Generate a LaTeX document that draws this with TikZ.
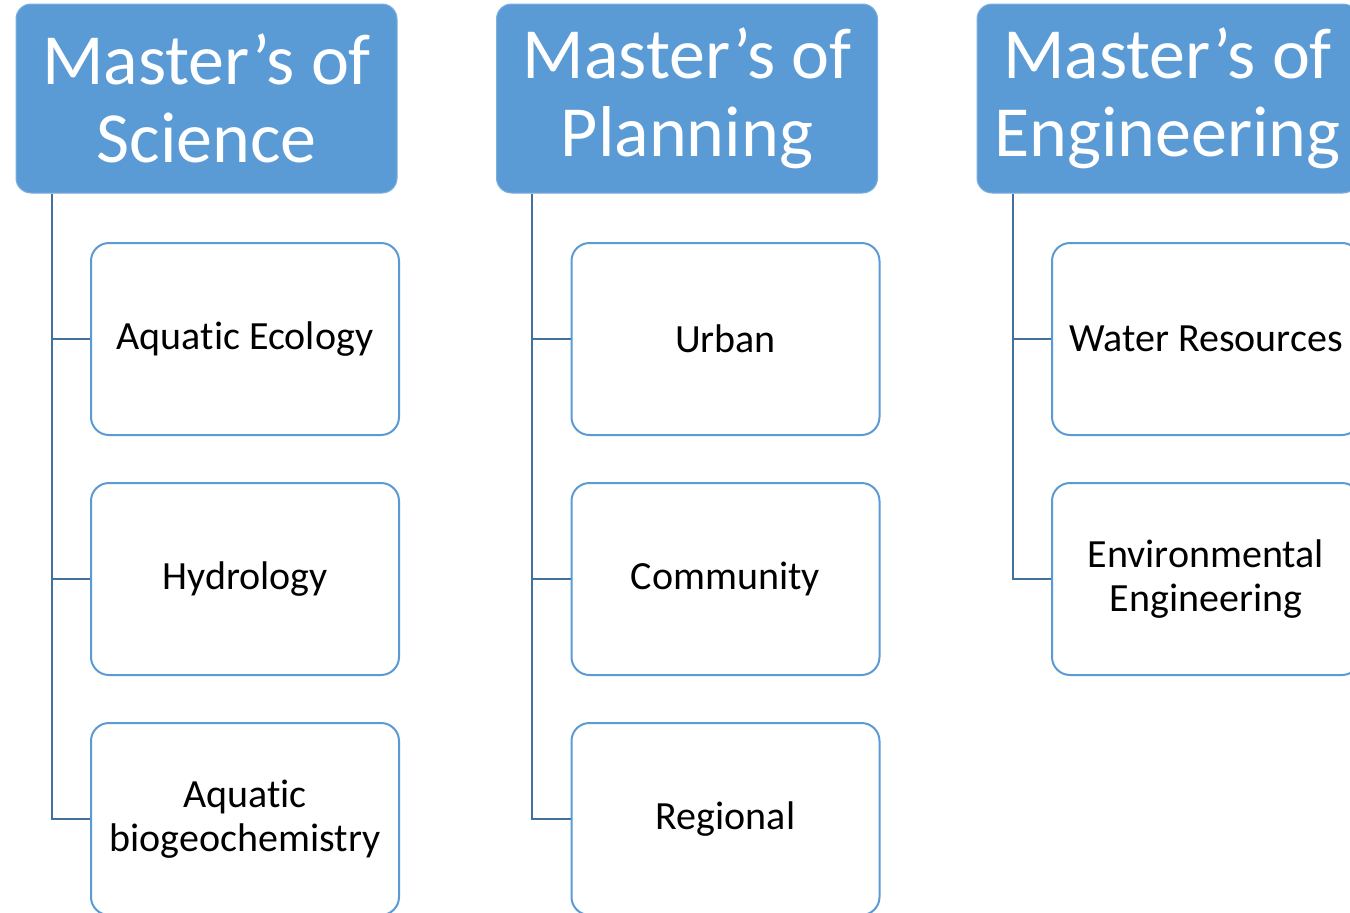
\documentclass[tikz,border=0pt]{standalone}
\usepackage{fontspec}
\setmainfont[Ligatures=NoCommon]{Carlito}
\definecolor{headblue}{HTML}{5B9BD5}
\definecolor{linkblue}{HTML}{41719C}
\tikzset{
	degree/.style={rectangle, rounded corners=15pt, fill=headblue, draw=headblue!80!white, line width=1pt,
		minimum width=381pt, minimum height=189pt, text=white, align=center,
		font=\fontsize{72}{78}\selectfont, inner sep=0pt},
	track/.style={rectangle, rounded corners=18pt, fill=white, draw=headblue, line width=2pt,
		minimum width=308pt, minimum height=192pt, align=center,
		font=\fontsize{40}{44}\selectfont, inner sep=0pt},
	branch/.style={draw=linkblue, line width=2pt}
}
\begin{document}
\begin{tikzpicture}[x=1pt,y=-1pt]
		\def\d{480.5}
		\clip (0,0) rectangle (1350,913);
		\fill[white] (0,0) rectangle (1350,913);
		% column headers
		\node[degree] (sci) at (206.5,98.5) {Master’s of\\Science};
		\node[degree] (pla) at ({206.5+\d},98.5) {Master’s of\\Planning};
		\node[degree] (eng) at ({206.5+2*\d},98.5) {Master’s of\\Engineering};
		% science tracks
		\node[track] (eco) at (245,339) {Aquatic Ecology};
		\node[track] (hyd) at (245,579) {Hydrology};
		\node[track] (bio) at (245,819) {Aquatic\\biogeochemistry};
		% planning tracks
		\node[track] (urb) at ({245+\d},339) {Urban};
		\node[track] (com) at ({245+\d},579) {Community};
		\node[track] (reg) at ({245+\d},819) {Regional};
		% engineering tracks
		\node[track] (wat) at ({245+2*\d},339) {Water Resources};
		\node[track] (env) at ({245+2*\d},579) {Environmental\\Engineering};
		% connectors
		\draw[branch] ([xshift=36pt]sci.south west) |- (eco.west);
		\draw[branch] ([xshift=36pt]sci.south west) |- (hyd.west);
		\draw[branch] ([xshift=36pt]sci.south west) |- (bio.west);
		\draw[branch] ([xshift=36pt]pla.south west) |- (urb.west);
		\draw[branch] ([xshift=36pt]pla.south west) |- (com.west);
		\draw[branch] ([xshift=36pt]pla.south west) |- (reg.west);
		\draw[branch] ([xshift=36pt]eng.south west) |- (wat.west);
		\draw[branch] ([xshift=36pt]eng.south west) |- (env.west);
	\end{tikzpicture}
\end{document}
